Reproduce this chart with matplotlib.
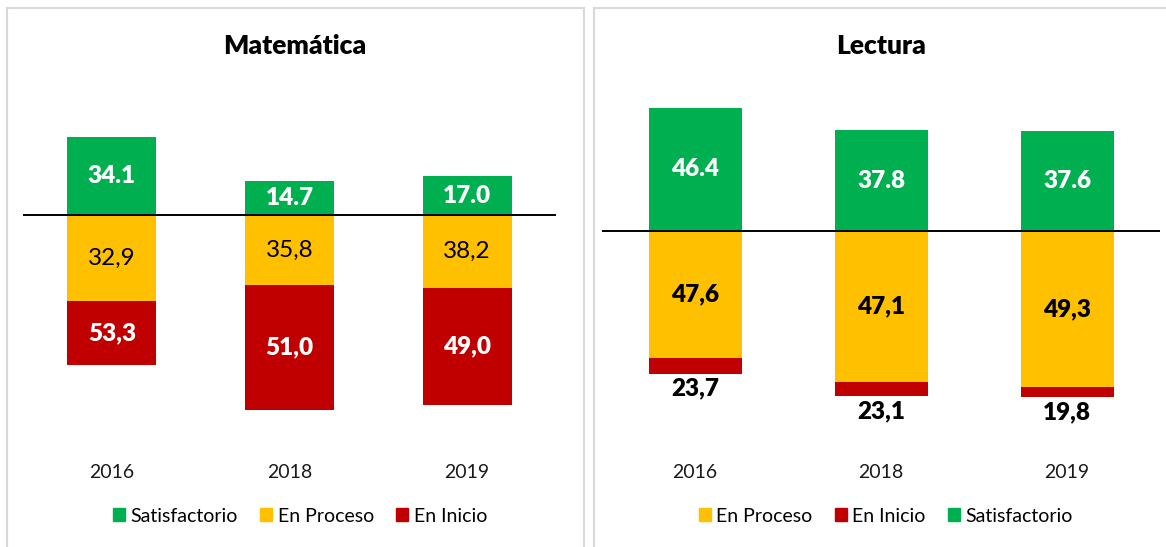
import matplotlib.pyplot as plt
import matplotlib.transforms as mtransforms
from matplotlib.patches import Rectangle, Patch

plt.rcParams['font.family'] = ['Lato', 'DejaVu Sans']

years = ['2016', '2018', '2019']

# Matemática: bar lengths as drawn, and the labels printed on them
mat_satisf = [34.1, 14.7, 17.0]
mat_proceso = [37.6, 30.7, 32.0]
mat_inicio = [28.4, 54.8, 51.3]
mat_satisf_lbl = ['34.1', '14.7', '17.0']
mat_proceso_lbl = ['32,9', '35,8', '38,2']
mat_inicio_lbl = ['53,3', '51,0', '49,0']

# Lectura
lec_satisf = [46.4, 37.8, 37.6]
lec_proceso = [47.6, 56.6, 58.6]
lec_inicio = [6.0, 5.6, 3.8]
lec_satisf_lbl = ['46.4', '37.8', '37.6']
lec_proceso_lbl = ['47,6', '47,1', '49,3']
lec_inicio_lbl = ['23,7', '23,1', '19,8']

GREEN = '#00B050'
YELLOW = '#FFC000'
RED = '#C00000'

W, H = 1166, 547
fig = plt.figure(figsize=(W / 100, H / 100), dpi=100)
fig.patch.set_facecolor('white')


def px_axes(left, right, zero_y, scale, ylim):
    # place an axes so that y=0 falls on pixel row zero_y with `scale` px per unit
    top = zero_y - ylim[1] * scale
    bottom = zero_y - ylim[0] * scale
    ax = fig.add_axes([left / W, 1 - bottom / H, (right - left) / W, (bottom - top) / H])
    ax.set_xlim(-0.5, 2.5)
    ax.set_ylim(*ylim)
    ax.axis('off')
    return ax


# panel frames
fig.add_artist(Rectangle((7 / W, -0.1), 577 / W, 1.1 - 8 / H, transform=fig.transFigure,
                         fill=False, edgecolor='#d9d9d9', linewidth=1.5))
fig.add_artist(Rectangle((594 / W, -0.1), 600 / W, 1.1 - 8 / H, transform=fig.transFigure,
                         fill=False, edgecolor='#d9d9d9', linewidth=1.5))

x = range(len(years))
bw = 0.5
LBL = 17.5

# ---- Matemática
ax1 = px_axes(23, 556, 215, 2.28, (-100, 50))
b_s = ax1.bar(x, mat_satisf, bw, color=GREEN, zorder=2)
b_p = ax1.bar(x, [-v for v in mat_proceso], bw, color=YELLOW, zorder=2)
b_i = ax1.bar(x, [-v for v in mat_inicio], bw, bottom=[-v for v in mat_proceso], color=RED, zorder=2)
ax1.axhline(0, color='black', linewidth=1.4, zorder=3)
ax1.bar_label(b_s, labels=mat_satisf_lbl, label_type='center', color='white',
              fontweight='heavy', fontsize=LBL)
ax1.bar_label(b_p, labels=mat_proceso_lbl, label_type='center', color='black', fontsize=LBL)
ax1.bar_label(b_i, labels=mat_inicio_lbl, label_type='center', color='white',
              fontweight='heavy', fontsize=LBL)

# ---- Lectura
ax2 = px_axes(602, 1160, 231, 2.66, (-80, 50))
c_s = ax2.bar(x, lec_satisf, bw, color=GREEN, zorder=2)
c_p = ax2.bar(x, [-v for v in lec_proceso], bw, color=YELLOW, zorder=2)
c_i = ax2.bar(x, [-v for v in lec_inicio], bw, bottom=[-v for v in lec_proceso], color=RED, zorder=2)
ax2.axhline(0, color='black', linewidth=1.4, zorder=3)
ax2.bar_label(c_s, labels=lec_satisf_lbl, label_type='center', color='white',
              fontweight='heavy', fontsize=LBL)
ax2.bar_label(c_p, labels=lec_proceso_lbl, label_type='center', color='black',
              fontweight='heavy', fontsize=LBL)
ax2.bar_label(c_i, labels=lec_inicio_lbl, label_type='edge', padding=3, color='black',
              fontweight='heavy', fontsize=LBL)

# years, titles, legends
for ax, ty in ((ax1, 472), (ax2, 473)):
    tr = mtransforms.blended_transform_factory(ax.transData, fig.transFigure)
    for xi, yr in zip(x, years):
        ax.text(xi, 1 - ty / H, yr, transform=tr, ha='center', va='center',
                fontsize=14, color='#1a1a1a')

fig.text(295 / W, 1 - 46 / H, 'Matemática', ha='center', va='center',
         fontsize=19, fontweight='heavy')
fig.text(881 / W, 1 - 46 / H, 'Lectura', ha='center', va='center',
         fontsize=19, fontweight='heavy')

h_s = Patch(color=GREEN, label='Satisfactorio')
h_p = Patch(color=YELLOW, label='En Proceso')
h_i = Patch(color=RED, label='En Inicio')
leg_kw = dict(loc='center', ncol=3, frameon=False, fontsize=14, handlelength=0.6,
              handleheight=0.6, handletextpad=0.3, columnspacing=1.15, borderaxespad=0)
fig.legend(handles=[h_s, h_p, h_i], bbox_to_anchor=(300 / W, 1 - 516 / H), **leg_kw)
fig.legend(handles=[h_p, h_i, h_s], bbox_to_anchor=(886 / W, 1 - 516 / H), **leg_kw)

fig.savefig('out.png', dpi=100, facecolor='white')
